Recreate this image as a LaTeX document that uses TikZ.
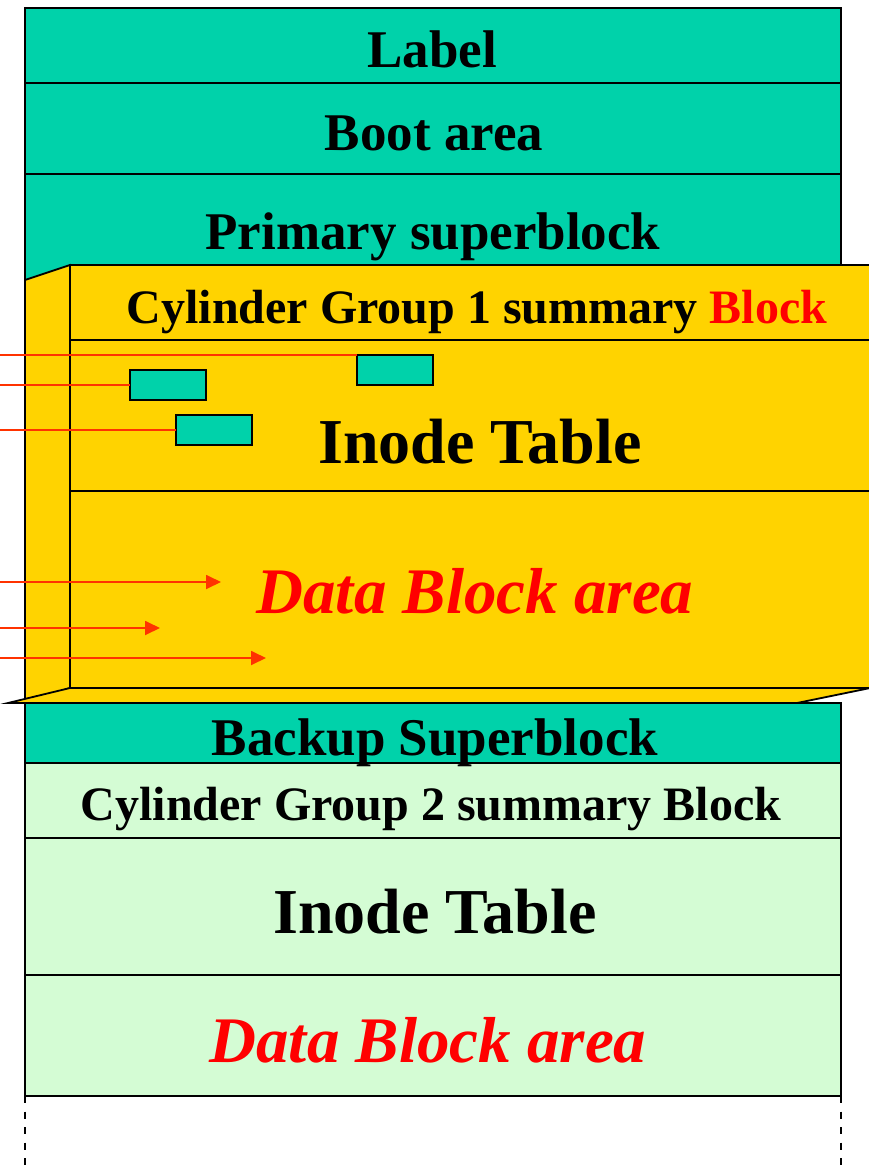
\documentclass[tikz,border=0pt]{standalone}
\usepackage{fontspec}
\setmainfont{Liberation Serif}
\usetikzlibrary{arrows.meta}
\definecolor{sbteal}{RGB}{0,210,170}
\definecolor{cgyellow}{RGB}{255,211,0}
\definecolor{cglight}{RGB}{212,252,212}
\definecolor{ptrred}{RGB}{255,51,0}
\definecolor{txtred}{RGB}{255,0,0}
\begin{document}
\begin{tikzpicture}[x=1pt,y=-1pt,
  edge/.style={draw=black,line width=1.8pt,line join=miter},
  title/.style={font=\bfseries\fontsize{53}{60}\selectfont,anchor=base,inner sep=0pt},
  cgtitle/.style={font=\bfseries\fontsize{48}{56}\selectfont,anchor=base,inner sep=0pt},
  bigtitle/.style={font=\bfseries\fontsize{64}{70}\selectfont,anchor=base,inner sep=0pt},
  datatitle/.style={font=\bfseries\itshape\fontsize{65}{72}\selectfont,text=txtred,anchor=base,inner sep=0pt},
  ptr/.style={draw=ptrred,line width=1.8pt},
  ptrarrow/.style={ptr,-{Triangle[length=15pt,width=14pt]}},
  inoderect/.style={draw=black,fill=sbteal,line width=1.5pt,minimum width=76pt,minimum height=30pt,inner sep=0pt,outer sep=0pt}]
\useasboundingbox (0,0) rectangle (868,1167);
\coordinate (o) at (0,0);

% ---- upper part of the disk ----
\path[edge,fill=sbteal] (25,8) rectangle (841,83);
\path[edge,fill=sbteal] (25,83) rectangle (841,174);
\path[edge,fill=sbteal] (25,174) rectangle (841,300);
\node[title] (lbl) at (432,67) {Label};
\node[title] (boot) at (434,150) {Boot area};
\node[title] (psb) at (433,249) {Primary superblock};

% ---- lower part of the disk ----
\path[edge,fill=sbteal] (25,703) rectangle (841,763);
\path[edge,fill=cglight] (25,763) rectangle (841,838);
\path[edge,fill=cglight] (25,838) rectangle (841,975);
\path[edge,fill=cglight] (25,975) rectangle (841,1096);
\draw[line width=1.5pt,dash pattern=on 7pt off 8.5pt] (25,1096) -- (25,1167);
\draw[line width=1.5pt,dash pattern=on 7pt off 8.5pt] (841,1096) -- (841,1167);
\node[title] (bsb) at (435,755) {Backup Superblock};
\node[cgtitle] (cg2) at (431,820) {Cylinder Group 2 summary Block};
\node[bigtitle] (it2) at (435,933) {Inode Table};
\node[datatitle] (db2) at (428,1062) {Data Block area};

% ---- cylinder group 1, drawn as a raised box ----
\path[edge,fill=cgyellow] (25,280) -- (70,265) -- (70,688) -- (25,703) -- cycle;
\path[edge,fill=cgyellow] (8,703) -- (797,703) -- (880,686) -- (70,688) -- cycle;
\path[edge,fill=cgyellow] (70,265) rectangle (890,688);
\draw[edge] (70,340) -- (890,340);
\draw[edge] (70,491) -- (890,491);
\node[cgtitle] (cg1) at (477,323) {Cylinder Group 1 summary \textcolor{txtred}{Block}};
\node[bigtitle] (it1) at (480,463) {Inode Table};
\node[datatitle] (db1) at (475,613) {Data Block area};

% ---- pointers into the inode table ----
\node[inoderect] (r1) at (395,370) {};
\node[inoderect] (r2) at (168,385) {};
\node[inoderect] (r3) at (214,430) {};
\coordinate (p1) at (r1.north west -| o);
\coordinate (p2) at (r2.west -| o);
\coordinate (p3) at (r3.west -| o);
\draw[ptr] (p1) -- (r1.north west);
\draw[ptr] (p2) -- (r2.west);
\draw[ptr] (p3) -- (r3.west);

% ---- pointers into the data block area ----
\coordinate (d1s) at (0,582);
\coordinate (d1e) at (221,582);
\coordinate (d2s) at (0,628);
\coordinate (d2e) at (160,628);
\coordinate (d3s) at (0,658);
\coordinate (d3e) at (266,658);
\draw[ptrarrow] (d1s) -- (d1e);
\draw[ptrarrow] (d2s) -- (d2e);
\draw[ptrarrow] (d3s) -- (d3e);
\end{tikzpicture}
\end{document}
